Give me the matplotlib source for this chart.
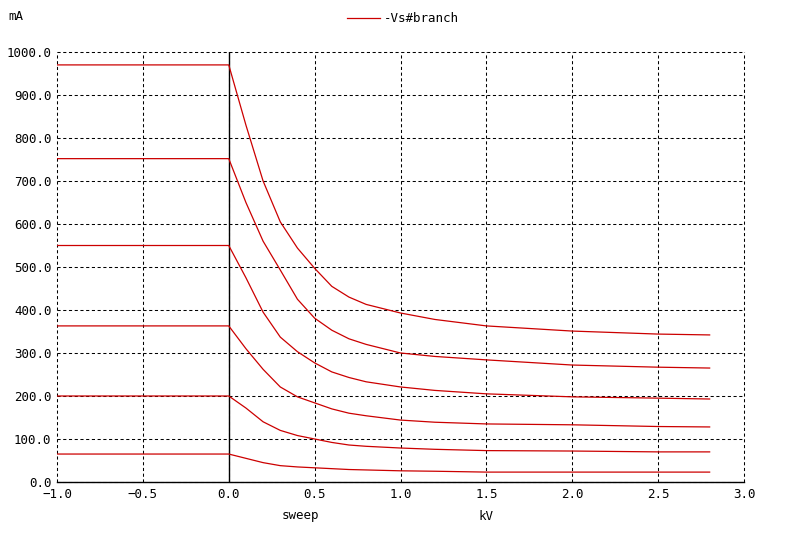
import matplotlib
matplotlib.use("Agg")
import matplotlib.pyplot as plt

# sweep points (kV) shared by all branches
sweep = [-1.0, 0.0, 0.1, 0.2, 0.3, 0.4, 0.5, 0.6, 0.7, 0.8, 1.0, 1.2, 1.5, 2.0, 2.5, 2.8]

# -Vs#branch current in mA, one list per step
branch_1 = [970, 970, 830, 700, 605, 544, 497, 455, 430, 413, 393, 378, 363, 351, 344, 342]
branch_2 = [752, 752, 650, 560, 493, 425, 381, 353, 333, 320, 300, 292, 284, 272, 267, 265]
branch_3 = [550, 550, 475, 395, 337, 303, 277, 256, 243, 233, 221, 213, 205, 198, 195, 193]
branch_4 = [363, 363, 310, 262, 221, 198, 184, 170, 160, 154, 144, 139, 135, 133, 129, 128]
branch_5 = [200, 200, 172, 140, 120, 108, 100, 92, 86, 83, 79, 76, 73, 72, 70, 70]
branch_6 = [65, 65, 55, 45, 38, 35, 33, 31, 29, 28, 26, 25, 23, 23, 23, 23]

x_ticks = [-1.0, -0.5, 0.0, 0.5, 1.0, 1.5, 2.0, 2.5, 3.0]
y_ticks = [0, 100, 200, 300, 400, 500, 600, 700, 800, 900, 1000]

plt.rcParams['font.family'] = ['DejaVu Sans Mono']
plt.rcParams['font.size'] = 9

fig = plt.figure(figsize=(8, 5.34), dpi=100)
ax = fig.add_axes([0.07125, 0.0974, 0.85875, 0.8052])

red = '#cc0000'
for i, b in enumerate([branch_1, branch_2, branch_3, branch_4, branch_5, branch_6]):
    ax.plot(sweep, b, color=red, lw=0.9, label='-Vs#branch' if i == 0 else None, zorder=3)

ax.axvline(0.0, color='black', lw=1, zorder=2)

ax.set_xlim(-1.0, 3.0)
ax.set_ylim(0, 1000)
ax.set_xticks(x_ticks)
ax.set_yticks(y_ticks)
ax.set_xticklabels([('%.1f' % v).replace('-', '\u2212') for v in x_ticks])
ax.set_yticklabels(['%.1f' % v for v in y_ticks])
ax.tick_params(length=0, pad=4, colors='black')

ax.grid(True, color='black', lw=0.75, linestyle=(0, (3, 2.5)))
for gl in ax.get_xgridlines() + ax.get_ygridlines():
    gl.set_clip_on(False)
for s in ['top', 'right', 'left']:
    ax.spines[s].set_visible(False)
ax.spines['bottom'].set_linewidth(1)
ax.spines['bottom'].set_zorder(4)

fig.text(8 / 800, 1 - 17 / 534, 'mA', ha='left', va='center')
fig.text(300 / 800, 1 - 516 / 534, 'sweep', ha='center', va='center')
fig.text(486 / 800, 1 - 516 / 534, 'kV', ha='center', va='center')

fig.legend(loc='center', bbox_to_anchor=(403 / 800, 1 - 19 / 534), frameon=False,
           handlelength=2.6, handletextpad=0.3)

fig.savefig('out.png', dpi=100)
